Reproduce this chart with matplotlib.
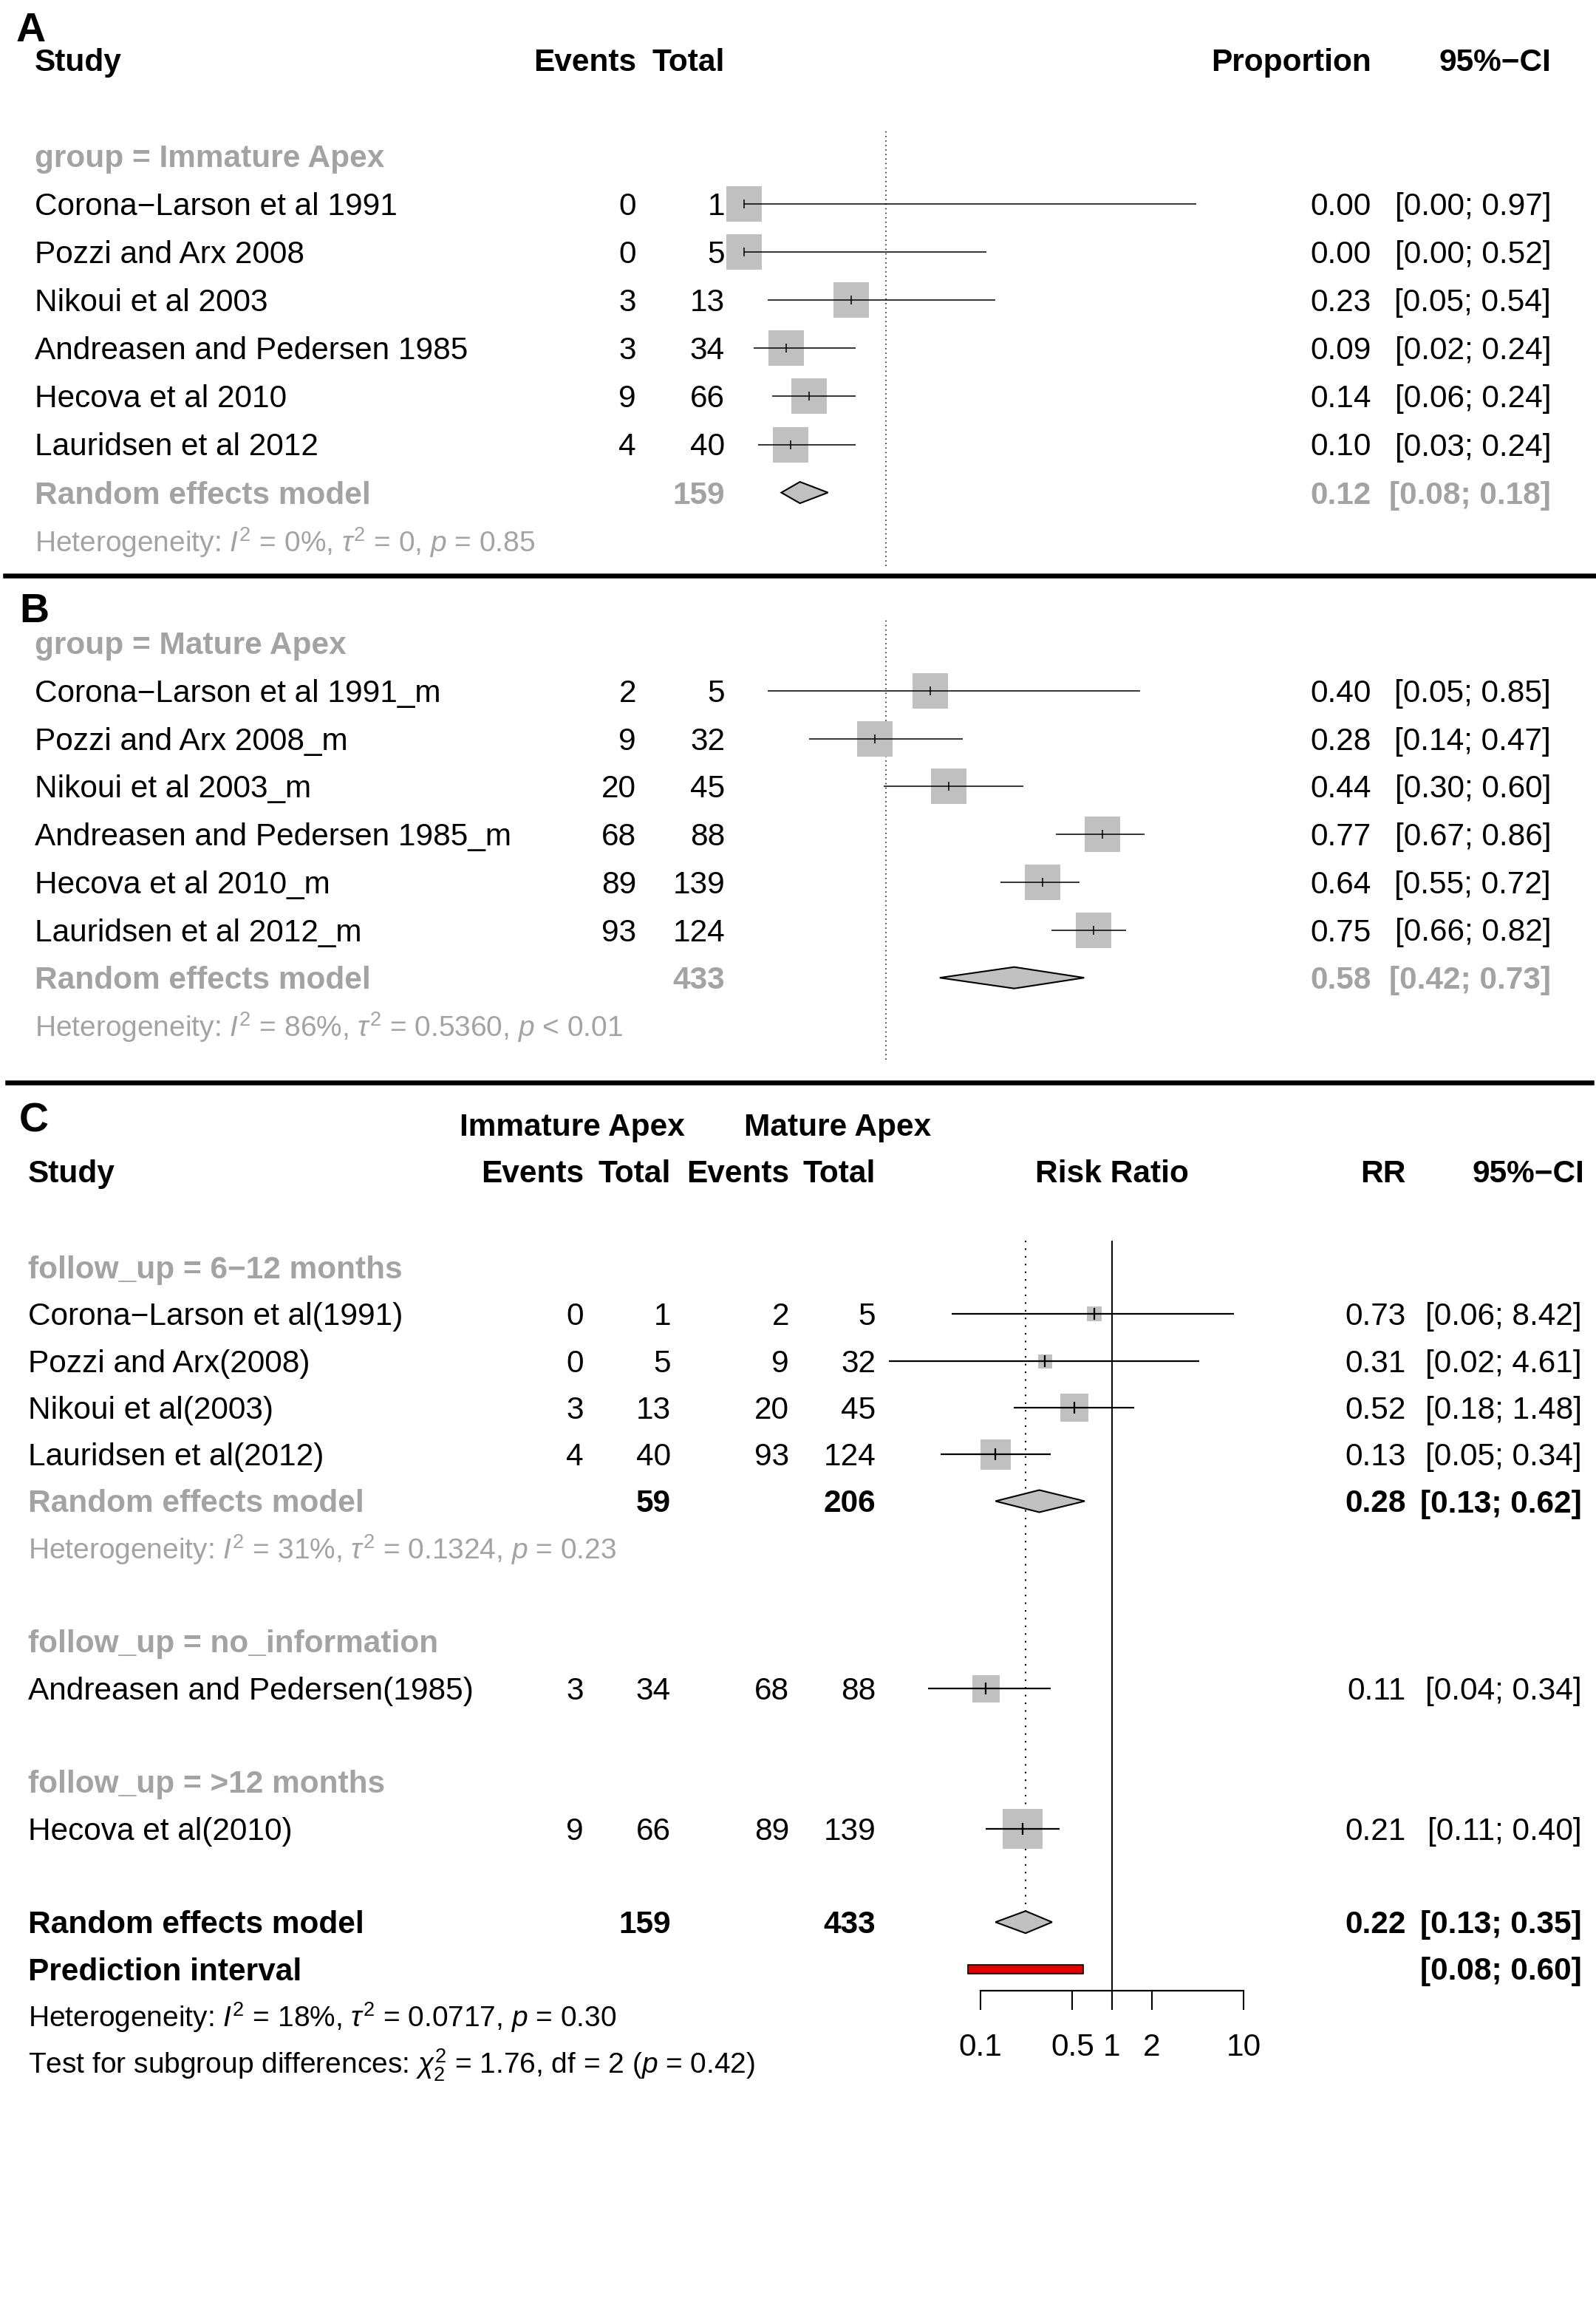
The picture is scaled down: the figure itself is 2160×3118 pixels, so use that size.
import matplotlib

matplotlib.use("Agg")
import matplotlib.pyplot as plt
from matplotlib import transforms
from matplotlib.lines import Line2D
from matplotlib.patches import Polygon, Rectangle

# ---- panel A: immature apex, single proportions
a_group = "group = Immature Apex"
a_study = ["Corona−Larson et al 1991", "Pozzi and Arx 2008", "Nikoui et al 2003",
           "Andreasen and Pedersen 1985", "Hecova et al 2010", "Lauridsen et al 2012"]
a_events = [0, 0, 3, 3, 9, 4]
a_total = [1, 5, 13, 34, 66, 40]
a_prop = [0.00, 0.00, 0.23, 0.09, 0.14, 0.10]
a_lo = [0.00, 0.00, 0.05, 0.02, 0.06, 0.03]
a_hi = [0.97, 0.52, 0.54, 0.24, 0.24, 0.24]
a_pooled = [0.12, 0.08, 0.18]
a_pooled_n = 159
a_het = r"Heterogeneity: $I^2$ = 0%, $\tau^2$ = 0, $p$ = 0.85"

# ---- panel B: mature apex, single proportions
b_group = "group = Mature Apex"
b_study = ["Corona−Larson et al 1991_m", "Pozzi and Arx 2008_m", "Nikoui et al 2003_m",
           "Andreasen and Pedersen 1985_m", "Hecova et al 2010_m", "Lauridsen et al 2012_m"]
b_events = [2, 9, 20, 68, 89, 93]
b_total = [5, 32, 45, 88, 139, 124]
b_prop = [0.40, 0.28, 0.44, 0.77, 0.64, 0.75]
b_lo = [0.05, 0.14, 0.30, 0.67, 0.55, 0.66]
b_hi = [0.85, 0.47, 0.60, 0.86, 0.72, 0.82]
b_pooled = [0.58, 0.42, 0.73]
b_pooled_n = 433
b_het = r"Heterogeneity: $I^2$ = 86%, $\tau^2$ = 0.5360, $p$ < 0.01"

ab_overall = 0.305  # dotted reference line in A and B

# ---- panel C: risk ratio, immature vs mature, by follow-up
c_groups = ["follow_up = 6−12 months", "follow_up = no_information", "follow_up = >12 months"]
c_study = ["Corona−Larson et al(1991)", "Pozzi and Arx(2008)", "Nikoui et al(2003)",
           "Lauridsen et al(2012)", "Andreasen and Pedersen(1985)", "Hecova et al(2010)"]
c_group_of = [0, 0, 0, 0, 1, 2]
c_ev_imm = [0, 0, 3, 4, 3, 9]
c_n_imm = [1, 5, 13, 40, 34, 66]
c_ev_mat = [2, 9, 20, 93, 68, 89]
c_n_mat = [5, 32, 45, 124, 88, 139]
c_rr = [0.73, 0.31, 0.52, 0.13, 0.11, 0.21]
c_lo = [0.06, 0.02, 0.18, 0.05, 0.04, 0.11]
c_hi = [8.42, 4.61, 1.48, 0.34, 0.34, 0.40]
c_sub_pooled = [0.28, 0.13, 0.62]
c_sub_n = [59, 206]
c_sub_het = r"Heterogeneity: $I^2$ = 31%, $\tau^2$ = 0.1324, $p$ = 0.23"
c_pooled = [0.22, 0.13, 0.35]
c_pooled_n = [159, 433]
c_pi = [0.08, 0.60]
c_het = r"Heterogeneity: $I^2$ = 18%, $\tau^2$ = 0.0717, $p$ = 0.30"
c_test = r"Test for subgroup differences: $\chi^2_2$ = 1.76, df = 2 ($p$ = 0.42)"
c_ticks = [0.1, 0.5, 1, 2, 10]
c_tick_labels = ["0.1", "0.5", "1", "2", "10"]

# ---- style
W, H = 2160, 3118
FONT = "Liberation Sans"
FS = 30.5
FS_HET = 28
GRAY = "#a3a3a3"
BOX = "#c0c0c0"
c_box_px = [20, 19, 38, 41, 37, 54]

plt.rcParams.update({
    "font.family": [FONT, "DejaVu Sans"],
    "font.size": FS,
    "mathtext.fontset": "custom",
    "mathtext.rm": FONT,
    "mathtext.it": FONT + ":italic",
    "mathtext.bf": FONT + ":bold",
})

fig = plt.figure(figsize=(W / 100, H / 100), dpi=100)


def px2pt(v):
    return v * 72 / 100


def add_panel(top, bottom, left, right, y0, step):
    ax = fig.add_axes([left / W, 1 - bottom / H, (right - left) / W, (bottom - top) / H])
    ax.set_ylim((bottom - y0) / step, (top - y0) / step)
    ax.patch.set_visible(False)
    return ax


def put(ax, px, row, s, ha="left", color="black", bold=False, size=FS):
    tr = transforms.blended_transform_factory(fig.transFigure, ax.transData)
    tr = transforms.offset_copy(tr, fig=fig, y=-15, units="dots")
    ax.text(px / W, row, s, transform=tr, ha=ha, va="baseline", color=color,
            fontsize=size, fontweight="bold" if bold else "normal", clip_on=False)


def study_mark(ax, row, est, lo, hi, box_px, lw, tick_px):
    ax.plot([est], [row], marker="s", ms=px2pt(box_px), mfc=BOX, mec=BOX, mew=0, zorder=2)
    ax.plot([lo, hi], [row, row], color="black", lw=lw, solid_capstyle="butt", zorder=3)
    ax.plot([est], [row], marker="|", ms=px2pt(tick_px), mec="black", mew=lw, zorder=4)


def diamond(ax, row, est, lo, hi, half):
    ax.add_patch(Polygon([(lo, row), (est, row - half), (hi, row), (est, row + half)],
                         closed=True, fc=BOX, ec="black", lw=1.5, zorder=3))


def fmt_ci(lo, hi):
    return f"[{lo:.2f}; {hi:.2f}]"


def proportion_panel(top, bottom, y0, step, group, study, events, total, prop, lo, hi,
                     pooled, pooled_n, het, header):
    # proportion axis: p=0 at x=1007px, 630.5 px per unit
    ax = add_panel(top, bottom, 900, 1800, y0, step)
    ax.set_xlim((900 - 1007) / 630.5, (1800 - 1007) / 630.5)
    ax.axis("off")
    ax.axvline(ab_overall, color="black", lw=1.1, ls=(0, (1, 3)), zorder=1)
    if header:
        put(ax, 47, -3, "Study", bold=True)
        put(ax, 861, -3, "Events", ha="right", bold=True)
        put(ax, 981, -3, "Total", ha="right", bold=True)
        put(ax, 1856, -3, "Proportion", ha="right", bold=True)
        put(ax, 2099, -3, "95%−CI", ha="right", bold=True)
    put(ax, 47, -1, group, color=GRAY, bold=True)
    for i in range(len(study)):
        put(ax, 47, i, study[i])
        put(ax, 861, i, str(events[i]), ha="right")
        put(ax, 981, i, str(total[i]), ha="right")
        put(ax, 1856, i, f"{prop[i]:.2f}", ha="right")
        put(ax, 2099, i, fmt_ci(lo[i], hi[i]), ha="right")
        study_mark(ax, i, prop[i], lo[i], hi[i], 48, 1.1, 12)
    r = len(study)
    put(ax, 47, r, "Random effects model", color=GRAY, bold=True)
    put(ax, 981, r, str(pooled_n), ha="right", color=GRAY, bold=True)
    put(ax, 1856, r, f"{pooled[0]:.2f}", ha="right", color=GRAY, bold=True)
    put(ax, 2099, r, fmt_ci(pooled[1], pooled[2]), ha="right", color=GRAY, bold=True)
    diamond(ax, r, pooled[0], pooled[1], pooled[2], 14.5 / step)
    put(ax, 47, r + 1, het, color=GRAY, size=FS_HET)


proportion_panel(176, 766, 276, 65.1, a_group, a_study, a_events, a_total, a_prop, a_lo,
                 a_hi, a_pooled, a_pooled_n, a_het, header=True)
proportion_panel(836, 1434, 935, 64.7, b_group, b_study, b_events, b_total, b_prop, b_lo,
                 b_hi, b_pooled, b_pooled_n, b_het, header=False)

# ---- panel C (log axis: 1 at x=1505px, 178 px per decade)
c_y0, c_step = 1715, 63.3
axc = add_panel(1679, 2694, 1200, 1800, c_y0, c_step)
axc.set_xscale("log")
axc.set_xlim(10 ** ((1200 - 1505) / 178), 10 ** ((1800 - 1505) / 178))
for s in ("top", "left", "right"):
    axc.spines[s].set_visible(False)
axc.spines["bottom"].set_bounds(c_ticks[0], c_ticks[-1])
axc.spines["bottom"].set_linewidth(1.6)
axc.xaxis.set_minor_locator(matplotlib.ticker.NullLocator())
axc.set_xticks(c_ticks)
axc.set_xticklabels(c_tick_labels)
axc.tick_params(axis="x", direction="out", length=px2pt(26), width=1.5, pad=22, labelsize=FS)
axc.set_yticks([])
axc.axvline(1, color="black", lw=1.4, zorder=1)

XS, XE1, XT1, XE2, XT2, XRR, XCI = 38, 790, 908, 1068, 1185, 1903, 2141
put(axc, 622, -3.05, "Immature Apex", bold=True)
put(axc, 1007, -3.05, "Mature Apex", bold=True)
put(axc, XS, -2.05, "Study", bold=True)
put(axc, XE1, -2.05, "Events", ha="right", bold=True)
put(axc, XT1, -2.05, "Total", ha="right", bold=True)
put(axc, XE2, -2.05, "Events", ha="right", bold=True)
put(axc, XT2, -2.05, "Total", ha="right", bold=True)
put(axc, 1505, -2.05, "Risk Ratio", ha="center", bold=True)
put(axc, XRR, -2.05, "RR", ha="right", bold=True)
put(axc, XCI + 3, -2.05, "95%−CI", ha="right", bold=True)

row = 0
for g, gname in enumerate(c_groups):
    put(axc, XS, row, gname, color=GRAY, bold=True)
    row += 1
    members = [i for i in range(len(c_study)) if c_group_of[i] == g]
    for i in members:
        put(axc, XS, row, c_study[i])
        put(axc, XE1, row, str(c_ev_imm[i]), ha="right")
        put(axc, XT1, row, str(c_n_imm[i]), ha="right")
        put(axc, XE2, row, str(c_ev_mat[i]), ha="right")
        put(axc, XT2, row, str(c_n_mat[i]), ha="right")
        put(axc, XRR, row, f"{c_rr[i]:.2f}", ha="right")
        put(axc, XCI, row, fmt_ci(c_lo[i], c_hi[i]), ha="right")
        study_mark(axc, row, c_rr[i], c_lo[i], c_hi[i], c_box_px[i], 1.6, 16)
        row += 1
    if len(members) > 1:
        put(axc, XS, row, "Random effects model", color=GRAY, bold=True)
        put(axc, XT1, row, str(c_sub_n[0]), ha="right", bold=True)
        put(axc, XT2, row, str(c_sub_n[1]), ha="right", bold=True)
        put(axc, XRR, row, f"{c_sub_pooled[0]:.2f}", ha="right", bold=True)
        put(axc, XCI, row, fmt_ci(c_sub_pooled[1], c_sub_pooled[2]), ha="right", bold=True)
        diamond(axc, row, *c_sub_pooled, 15 / c_step)
        put(axc, XS, row + 1, c_sub_het, color=GRAY, size=FS_HET)
        row += 2
    row += 1

half = 15 / c_step
put(axc, XS, row, "Random effects model", bold=True)
put(axc, XT1, row, str(c_pooled_n[0]), ha="right", bold=True)
put(axc, XT2, row, str(c_pooled_n[1]), ha="right", bold=True)
put(axc, XRR, row, f"{c_pooled[0]:.2f}", ha="right", bold=True)
put(axc, XCI, row, fmt_ci(c_pooled[1], c_pooled[2]), ha="right", bold=True)
diamond(axc, row, *c_pooled, half)
axc.plot([c_pooled[0], c_pooled[0]], [axc.get_ylim()[1], row - half], color="black",
         lw=1.5, ls=(0, (1, 4)), zorder=1)
put(axc, XS, row + 1, "Prediction interval", bold=True)
put(axc, XCI, row + 1, fmt_ci(*c_pi), ha="right", bold=True)
pi_h = 12 / c_step
axc.add_patch(Rectangle((c_pi[0], row + 1 - pi_h / 2), c_pi[1] - c_pi[0], pi_h,
                        fc="#e00000", ec="black", lw=1.2, zorder=3))
put(axc, XS, row + 2, c_het, size=FS_HET)
put(axc, XS, row + 3, c_test, size=FS_HET)

# ---- panel letters and separators
for letter, x, y in (("A", 22, 56), ("B", 26, 842), ("C", 26, 1532)):
    fig.text(x / W, 1 - y / H, letter, fontsize=40, fontweight="bold", va="baseline")
fig.add_artist(Line2D([7 / W, 1], [1 - 779 / H] * 2, color="black", lw=4.7))
fig.add_artist(Line2D([10 / W, 2154 / W], [1 - 1465 / H] * 2, color="black", lw=4.7))

fig.savefig("out.png", dpi=100)
